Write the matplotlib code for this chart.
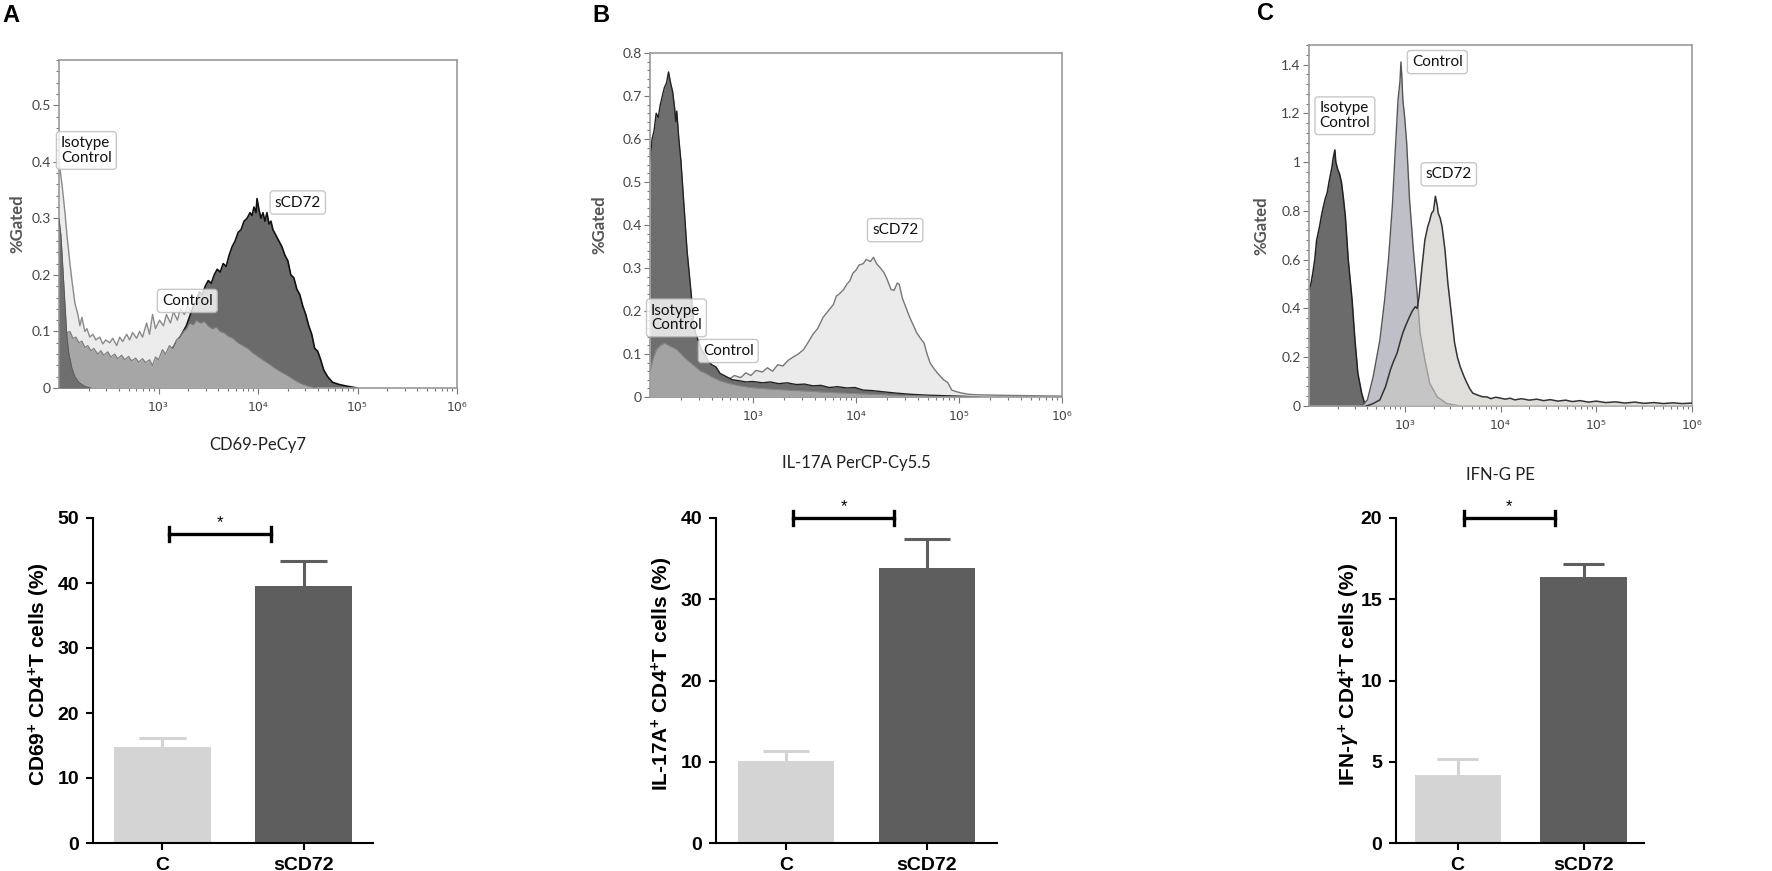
import matplotlib
matplotlib.use("Agg")
import matplotlib.pyplot as plt
import numpy as np
from matplotlib.ticker import MultipleLocator, FuncFormatter, LogLocator, NullFormatter

# ---- flow histograms: (log10 intensity, %gated) ----
a_spike = [(2.00, 0.30), (2.02, 0.27), (2.04, 0.21), (2.06, 0.15), (2.08, 0.09), (2.10, 0.06),
           (2.13, 0.035), (2.16, 0.02), (2.20, 0.01), (2.26, 0.003), (2.32, 0.0)]
a_light = [(2.00, 0.40), (2.03, 0.36), (2.06, 0.31), (2.08, 0.27), (2.11, 0.22), (2.13, 0.19),
           (2.16, 0.15), (2.19, 0.13), (2.21, 0.11), (2.23, 0.125), (2.26, 0.10), (2.28, 0.105),
           (2.31, 0.09), (2.34, 0.095), (2.37, 0.085), (2.41, 0.09), (2.44, 0.078), (2.47, 0.085),
           (2.51, 0.08), (2.54, 0.088), (2.58, 0.075), (2.61, 0.09), (2.64, 0.082), (2.68, 0.095),
           (2.71, 0.085), (2.74, 0.098), (2.78, 0.088), (2.81, 0.10), (2.84, 0.09), (2.88, 0.115),
           (2.91, 0.095), (2.94, 0.13), (2.97, 0.105), (3.01, 0.12), (3.05, 0.11), (3.08, 0.13),
           (3.12, 0.115), (3.15, 0.135), (3.19, 0.12), (3.22, 0.14), (3.26, 0.13), (3.29, 0.145),
           (3.33, 0.135), (3.36, 0.15), (3.40, 0.145), (3.45, 0.16), (3.55, 0.15), (3.70, 0.12),
           (3.90, 0.08), (4.10, 0.04), (4.30, 0.01), (4.50, 0.0)]
a_mid = [(2.00, 0.11), (2.02, 0.115), (2.05, 0.105), (2.08, 0.098), (2.11, 0.10), (2.14, 0.088),
         (2.17, 0.09), (2.20, 0.08), (2.23, 0.083), (2.26, 0.072), (2.29, 0.075), (2.32, 0.066),
         (2.35, 0.07), (2.39, 0.06), (2.42, 0.066), (2.45, 0.058), (2.49, 0.064), (2.52, 0.055),
         (2.56, 0.06), (2.59, 0.052), (2.63, 0.058), (2.66, 0.05), (2.70, 0.056), (2.73, 0.048),
         (2.77, 0.053), (2.80, 0.046), (2.84, 0.052), (2.87, 0.045), (2.91, 0.05), (2.94, 0.04),
         (2.97, 0.055), (3.00, 0.05), (3.04, 0.068), (3.07, 0.06), (3.11, 0.075), (3.14, 0.07),
         (3.18, 0.085), (3.21, 0.09), (3.25, 0.10), (3.28, 0.105), (3.31, 0.115), (3.35, 0.112),
         (3.38, 0.12), (3.42, 0.115), (3.46, 0.118), (3.50, 0.11), (3.54, 0.105), (3.58, 0.108),
         (3.62, 0.10), (3.66, 0.098), (3.70, 0.092), (3.75, 0.088), (3.80, 0.08), (3.85, 0.075),
         (3.90, 0.07), (3.95, 0.062), (4.00, 0.056), (4.05, 0.05), (4.10, 0.044), (4.15, 0.038),
         (4.20, 0.032), (4.25, 0.027), (4.30, 0.022), (4.36, 0.015), (4.42, 0.009), (4.50, 0.004),
         (4.58, 0.0)]
a_dark = [(2.00, 0.04), (2.20, 0.035), (2.40, 0.03), (2.60, 0.03), (2.80, 0.032), (3.00, 0.04),
          (3.10, 0.06), (3.20, 0.085), (3.28, 0.11), (3.34, 0.14), (3.38, 0.155), (3.41, 0.17),
          (3.44, 0.165), (3.47, 0.18), (3.50, 0.19), (3.53, 0.185), (3.56, 0.20), (3.59, 0.21),
          (3.62, 0.205), (3.65, 0.22), (3.68, 0.215), (3.71, 0.235), (3.74, 0.25), (3.77, 0.26),
          (3.80, 0.275), (3.83, 0.28), (3.86, 0.295), (3.89, 0.30), (3.92, 0.31), (3.94, 0.305),
          (3.96, 0.32), (3.98, 0.31), (3.99, 0.335), (4.01, 0.315), (4.03, 0.30), (4.05, 0.31),
          (4.07, 0.295), (4.09, 0.31), (4.11, 0.29), (4.13, 0.295), (4.15, 0.28), (4.18, 0.27),
          (4.21, 0.26), (4.24, 0.25), (4.27, 0.235), (4.30, 0.225), (4.33, 0.20), (4.36, 0.195),
          (4.39, 0.175), (4.42, 0.165), (4.45, 0.145), (4.48, 0.13), (4.51, 0.11), (4.54, 0.095),
          (4.57, 0.07), (4.60, 0.065), (4.63, 0.05), (4.66, 0.032), (4.70, 0.02), (4.75, 0.01),
          (4.82, 0.006), (4.90, 0.003), (5.00, 0.0)]

b_light = [(2.00, 0.03), (2.40, 0.03), (2.76, 0.04), (2.82, 0.05), (2.88, 0.045), (2.93, 0.056),
           (2.98, 0.05), (3.03, 0.062), (3.09, 0.058), (3.14, 0.068), (3.19, 0.06), (3.24, 0.075),
           (3.29, 0.072), (3.34, 0.085), (3.39, 0.093), (3.44, 0.10), (3.49, 0.11), (3.53, 0.125),
           (3.58, 0.145), (3.63, 0.16), (3.68, 0.185), (3.73, 0.20), (3.78, 0.215), (3.81, 0.235),
           (3.84, 0.24), (3.88, 0.25), (3.91, 0.262), (3.94, 0.27), (3.97, 0.288), (4.00, 0.295),
           (4.03, 0.307), (4.07, 0.31), (4.10, 0.32), (4.14, 0.315), (4.17, 0.325), (4.20, 0.31),
           (4.23, 0.302), (4.27, 0.29), (4.30, 0.275), (4.34, 0.25), (4.37, 0.248), (4.40, 0.265),
           (4.42, 0.262), (4.45, 0.23), (4.49, 0.205), (4.52, 0.186), (4.56, 0.165), (4.59, 0.149),
           (4.63, 0.135), (4.66, 0.126), (4.69, 0.10), (4.72, 0.079), (4.76, 0.065), (4.79, 0.056),
           (4.82, 0.048), (4.85, 0.04), (4.89, 0.034), (4.93, 0.016), (4.98, 0.012), (5.03, 0.009),
           (5.10, 0.006), (5.20, 0.005), (5.40, 0.004), (5.70, 0.003), (6.00, 0.002)]
b_dark = [(2.00, 0.55), (2.02, 0.60), (2.04, 0.62), (2.06, 0.66), (2.08, 0.65), (2.10, 0.68),
          (2.12, 0.70), (2.14, 0.72), (2.16, 0.73), (2.18, 0.756), (2.20, 0.73), (2.22, 0.71),
          (2.24, 0.67), (2.25, 0.64), (2.26, 0.665), (2.28, 0.60), (2.30, 0.55), (2.32, 0.48),
          (2.34, 0.41), (2.36, 0.34), (2.38, 0.29), (2.40, 0.24), (2.42, 0.18), (2.44, 0.15),
          (2.47, 0.13), (2.50, 0.11), (2.53, 0.10), (2.56, 0.085), (2.60, 0.075), (2.64, 0.07),
          (2.68, 0.055), (2.72, 0.05), (2.76, 0.045), (2.80, 0.04), (2.86, 0.038), (2.93, 0.035),
          (3.00, 0.036), (3.09, 0.033), (3.17, 0.035), (3.25, 0.031), (3.33, 0.033), (3.42, 0.029),
          (3.50, 0.03), (3.58, 0.026), (3.66, 0.027), (3.74, 0.022), (3.82, 0.024), (3.91, 0.021),
          (3.99, 0.022), (4.07, 0.016), (4.15, 0.015), (4.23, 0.013), (4.31, 0.011), (4.39, 0.009),
          (4.55, 0.006), (4.72, 0.004), (5.00, 0.002), (5.20, 0.0)]
b_mid = [(2.00, 0.06), (2.03, 0.09), (2.06, 0.11), (2.10, 0.12), (2.14, 0.125), (2.18, 0.12),
         (2.22, 0.115), (2.26, 0.11), (2.30, 0.10), (2.34, 0.09), (2.39, 0.08), (2.44, 0.07),
         (2.49, 0.06), (2.54, 0.055), (2.59, 0.048), (2.64, 0.042), (2.70, 0.036), (2.76, 0.032),
         (2.83, 0.028), (2.90, 0.025), (2.98, 0.022), (3.08, 0.02), (3.20, 0.018), (3.35, 0.016),
         (3.50, 0.014), (3.65, 0.012), (3.80, 0.01), (4.00, 0.008), (4.20, 0.006), (4.45, 0.004),
         (4.70, 0.002), (5.00, 0.0)]

c_isotype = [(2.00, 0.476), (2.02, 0.50), (2.04, 0.546), (2.06, 0.60), (2.08, 0.68), (2.11, 0.735),
             (2.13, 0.78), (2.15, 0.817), (2.17, 0.85), (2.19, 0.874), (2.21, 0.92), (2.22, 0.94),
             (2.24, 0.98), (2.25, 1.01), (2.27, 1.05), (2.28, 1.0), (2.30, 0.97), (2.32, 0.95),
             (2.34, 0.915), (2.36, 0.85), (2.38, 0.776), (2.41, 0.60), (2.45, 0.435), (2.48, 0.27),
             (2.51, 0.135), (2.55, 0.053), (2.58, 0.012), (2.64, 0.0)]
c_control = [(2.55, 0.0), (2.61, 0.025), (2.67, 0.12), (2.74, 0.27), (2.79, 0.435), (2.83, 0.60),
             (2.87, 0.817), (2.90, 1.04), (2.93, 1.256), (2.95, 1.33), (2.96, 1.41), (2.97, 1.35),
             (2.98, 1.256), (3.00, 1.18), (3.02, 1.08), (3.05, 0.846), (3.09, 0.64), (3.13, 0.46),
             (3.16, 0.30), (3.21, 0.19), (3.26, 0.094), (3.34, 0.037), (3.44, 0.01), (3.58, 0.0)]
c_scd72 = [(2.60, 0.0), (2.67, 0.01), (2.74, 0.025), (2.80, 0.08), (2.85, 0.148), (2.88, 0.18),
           (2.92, 0.217), (2.95, 0.26), (2.98, 0.30), (3.01, 0.33), (3.05, 0.366), (3.08, 0.39),
           (3.11, 0.407), (3.13, 0.40), (3.15, 0.45), (3.18, 0.57), (3.21, 0.68), (3.24, 0.735),
           (3.26, 0.76), (3.28, 0.79), (3.30, 0.80), (3.32, 0.86), (3.34, 0.82), (3.35, 0.79),
           (3.37, 0.77), (3.39, 0.735), (3.42, 0.64), (3.45, 0.505), (3.49, 0.366), (3.52, 0.26),
           (3.55, 0.20), (3.58, 0.16), (3.62, 0.12), (3.65, 0.094), (3.68, 0.07), (3.71, 0.053),
           (3.76, 0.045), (3.81, 0.038), (3.86, 0.037), (3.90, 0.03), (3.95, 0.036), (3.99, 0.033),
           (4.05, 0.028), (4.10, 0.032), (4.15, 0.025), (4.22, 0.03), (4.30, 0.024), (4.38, 0.028),
           (4.45, 0.022), (4.52, 0.026), (4.60, 0.02), (4.68, 0.024), (4.75, 0.018), (4.83, 0.022),
           (4.92, 0.016), (5.00, 0.02), (5.10, 0.014), (5.20, 0.017), (5.30, 0.012), (5.40, 0.016),
           (5.50, 0.011), (5.60, 0.014), (5.70, 0.01), (5.80, 0.013), (5.90, 0.01), (6.00, 0.012)]

# ---- bar charts ----
groups = ["C", "sCD72"]
cd69_mean = [14.8, 39.5]
cd69_sem = [1.4, 3.9]
il17_mean = [10.1, 33.9]
il17_sem = [1.2, 3.5]
ifng_mean = [4.2, 16.4]
ifng_sem = [1.0, 0.8]

W, H = 1772, 871
HFONT = "Lato"
BFONT = "Liberation Sans"

plt.rcParams["mathtext.fontset"] = "custom"
plt.rcParams["mathtext.rm"] = "Liberation Sans:bold"
plt.rcParams["mathtext.bf"] = "Liberation Sans:bold"
plt.rcParams["mathtext.it"] = "Liberation Sans:italic:bold"


def box(left, top, right, bottom):
    return [left / W, 1 - bottom / H, (right - left) / W, (bottom - top) / H]


def curve(ax, pts, face, edge, lw, z, alpha=1.0):
    lx, y = np.array(pts).T
    x = 10 ** lx
    ax.fill_between(x, 0, y, color=face, alpha=alpha, lw=0, zorder=z)
    ax.plot(x, y, color=edge, lw=lw, zorder=z + 0.5)


def hist_axes(fig, rect, ymax, major, minor, xlabel, xlab_y, ylab_x):
    ax = fig.add_axes(rect)
    ax.set_xscale("log")
    ax.set_xlim(1e2, 1e6)
    ax.set_ylim(0, ymax)
    ax.set_xticks([1e3, 1e4, 1e5, 1e6])
    ax.set_xticklabels(["10³", "10⁴", "10⁵", "10⁶"], fontfamily="DejaVu Sans")
    ax.xaxis.set_minor_locator(LogLocator(base=10, subs=np.arange(2, 10), numticks=20))
    ax.xaxis.set_minor_formatter(NullFormatter())
    ax.yaxis.set_major_locator(MultipleLocator(major))
    ax.yaxis.set_minor_locator(MultipleLocator(minor))
    ax.yaxis.set_major_formatter(FuncFormatter(lambda v, p: "%g" % round(v, 2)))
    ax.tick_params(which="both", direction="out", colors="#777777", labelcolor="#444444",
                   labelsize=10, width=0.8)
    ax.tick_params(which="major", length=4, pad=2)
    ax.tick_params(which="minor", length=2)
    ax.tick_params(axis="x", which="major", pad=5, labelsize=9)
    for lab in ax.get_yticklabels():
        lab.set_fontfamily(HFONT)
    for s in ax.spines.values():
        s.set_color("#999999")
        s.set_linewidth(1.2)
    ax.set_ylabel("%Gated", fontfamily=HFONT, fontweight="bold", fontsize=12, color="#555555")
    ax.yaxis.set_label_coords(ylab_x, 0.5)
    ax.set_xlabel(xlabel, fontfamily=HFONT, fontsize=12, color="#222222")
    ax.xaxis.set_label_coords(0.5, xlab_y)
    return ax


def tag(ax, text, lx, y, ha="center"):
    ax.text(10 ** lx, y, text, ha=ha, va="center", fontsize=11, fontfamily=HFONT,
            color="#111111", linespacing=1.05, zorder=20,
            bbox=dict(boxstyle="round,pad=0.3,rounding_size=0.2", fc="white",
                      ec="#bbbbbb", lw=1.0, alpha=0.8))


def bar_axes(fig, rect, means, sems, ymax, step, ylabel, xlim, sig_y, ylab_x):
    ax = fig.add_axes(rect)
    x = np.arange(len(groups))
    colors = ["#d4d4d4", "#5e5e5e"]
    ax.bar(x, means, width=0.685, color=colors, zorder=2)
    # upper-only error bars, same colour as the bar
    for xi, m, s, c in zip(x, means, sems, colors):
        ax.vlines(xi, m, m + s, color=c, lw=2.2, zorder=1)
        ax.hlines(m + s, xi - 0.165, xi + 0.165, color=c, lw=2.2, zorder=1)
    ax.set_xlim(*xlim)
    ax.set_ylim(0, ymax)
    ax.set_yticks(np.arange(0, ymax + step / 2, step))
    ax.set_xticks(x)
    ax.set_xticklabels(groups)
    for s in ["top", "right"]:
        ax.spines[s].set_visible(False)
    for s in ["left", "bottom"]:
        ax.spines[s].set_linewidth(1.5)
    ax.tick_params(direction="out", length=5, width=1.5, labelsize=14, pad=5)
    for lab in ax.get_xticklabels() + ax.get_yticklabels():
        lab.set_fontfamily(BFONT)
        lab.set_fontweight("bold")
    ax.set_ylabel(ylabel, fontfamily=BFONT, fontweight="bold", fontsize=15)
    ax.yaxis.set_label_coords(ylab_x, 0.52)
    # significance bracket between the two groups
    cap = ymax * 0.022
    x0, x1 = x[0] + 0.05, x[1] - 0.23
    ax.plot([x0, x1], [sig_y, sig_y], color="black", lw=2.4, clip_on=False)
    ax.plot([x0, x0], [sig_y - cap, sig_y + cap], color="black", lw=2.4, clip_on=False)
    ax.plot([x1, x1], [sig_y - cap, sig_y + cap], color="black", lw=2.4, clip_on=False)
    ax.text((x0 + x1) / 2, sig_y + ymax * 0.012, "*", ha="center", va="bottom",
            fontsize=12, fontfamily=BFONT, clip_on=False)
    return ax


def main():
    fig = plt.figure(figsize=(W / 100, H / 100), dpi=100)

    # --- A histogram
    ax = hist_axes(fig, box(59, 60, 457, 388), 0.58, 0.1, 0.02, "CD69-PeCy7", -0.15, -0.085)
    curve(ax, a_light, "#ececec", "#8a8a8a", 1.0, 1)
    curve(ax, a_dark, "#6b6b6b", "#111111", 1.2, 2)
    curve(ax, a_mid, "#a6a6a6", "#7a7a7a", 0.8, 3)
    curve(ax, a_spike, "#6f6f6f", "#555555", 0.6, 4)
    tag(ax, "Isotype\nControl", 2.02, 0.42, ha="left")
    tag(ax, "Control", 3.29, 0.154)
    tag(ax, "sCD72", 4.40, 0.328)

    # --- B histogram
    ax = hist_axes(fig, box(650, 53, 1062, 397), 0.8, 0.1, 0.02, "IL-17A PerCP-Cy5.5",
                   -0.17, -0.104)
    curve(ax, b_light, "#ebebeb", "#777777", 1.0, 1)
    curve(ax, b_dark, "#6e6e6e", "#222222", 1.0, 2)
    curve(ax, b_mid, "#a3a3a3", "#8a8a8a", 0.6, 3)
    tag(ax, "Isotype\nControl", 2.01, 0.184, ha="left")
    tag(ax, "Control", 2.76, 0.107)
    tag(ax, "sCD72", 4.38, 0.388)

    # --- C histogram
    ax = hist_axes(fig, box(1309, 45, 1692, 406), 1.48, 0.2, 0.04, "IFN-G PE", -0.17, -0.104)
    curve(ax, c_isotype, "#6b6b6b", "#222222", 1.1, 1)
    curve(ax, c_control, "#bfc0c7", "#555555", 1.0, 2)
    curve(ax, c_scd72, "#cbc9c4", "#333333", 1.1, 3, alpha=0.6)
    tag(ax, "Isotype\nControl", 2.11, 1.19, ha="left")
    tag(ax, "Control", 3.34, 1.41)
    tag(ax, "sCD72", 3.46, 0.95)

    # --- bar charts
    bar_axes(fig, box(93, 518, 373, 843), cd69_mean, cd69_sem, 50, 10,
             "CD69$^{+}$ CD4$^{+}$T cells (%)", (-0.49, 1.49), 47.5, -0.146)
    bar_axes(fig, box(716, 518, 997, 843), il17_mean, il17_sem, 40, 10,
             "IL-17A$^{+}$ CD4$^{+}$T cells (%)", (-0.50, 1.50), 40, -0.146)
    bar_axes(fig, box(1396, 518, 1644, 843), ifng_mean, ifng_sem, 20, 5,
             "IFN-$\\gamma^{+}$ CD4$^{+}$T cells (%)", (-0.49, 1.48), 20, -0.137)

    # panel letters
    for letter, px, py in [("A", 11, 16), ("B", 601, 15), ("C", 1266, 14)]:
        fig.text(px / W, 1 - py / H, letter, fontsize=17, fontweight="bold",
                 fontfamily=BFONT, ha="center", va="center")

    fig.savefig("out.png", dpi=100)


if __name__ == "__main__":
    main()
